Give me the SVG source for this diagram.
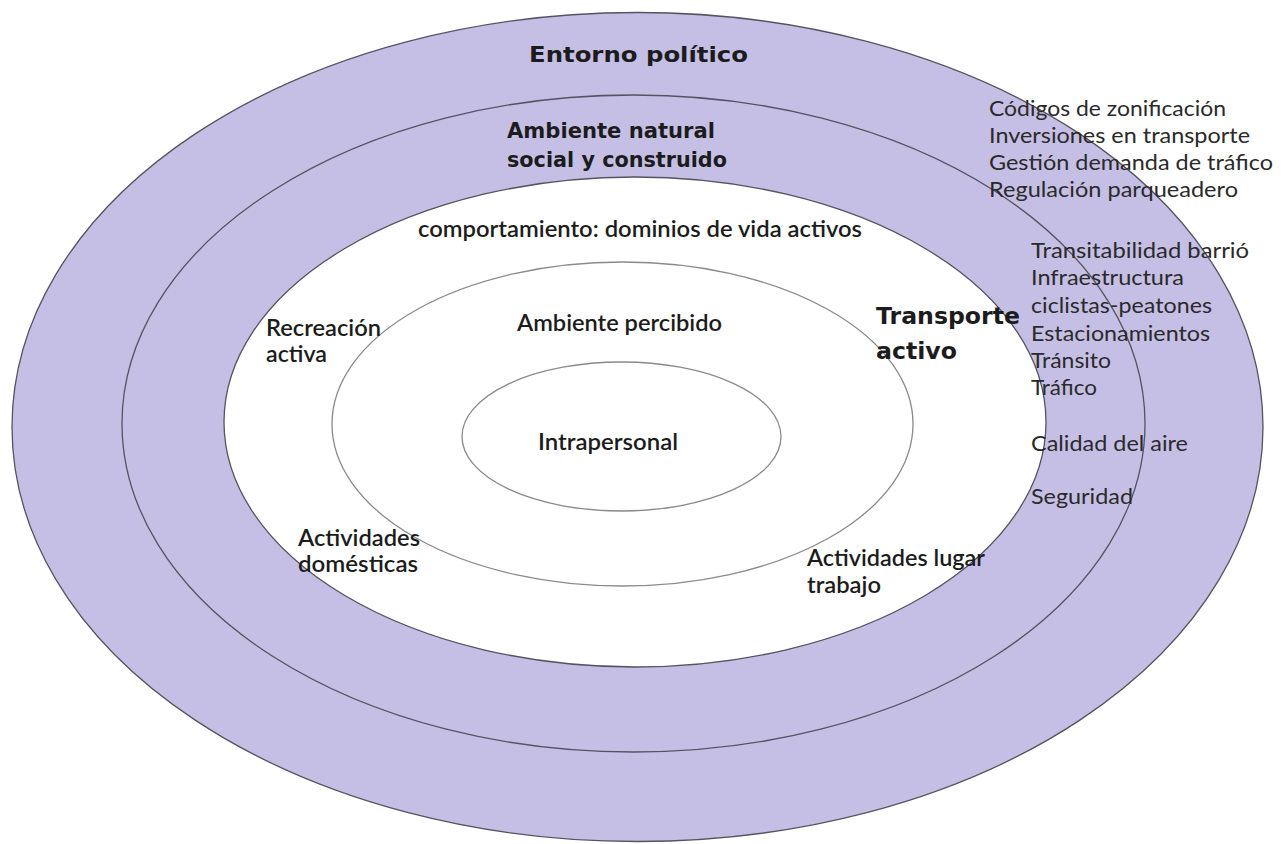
<svg xmlns="http://www.w3.org/2000/svg" width="1286" height="844" viewBox="0 0 1286 844">
  <style>
    .ring { fill: #c6bfe5; stroke: #55535f; stroke-width: 1.3; }
    .core { fill: #ffffff; stroke: #55535f; stroke-width: 1.3; }
    .inner { fill: #ffffff; stroke: #8a8a8a; stroke-width: 1.3; }
    text { font-family: Lato, "Open Sans", "Liberation Sans", sans-serif; fill: #1c1c1c; }
    .head { font-family: "DejaVu Sans", "Liberation Sans", sans-serif; font-weight: 700; font-size: 21px; }
    .lbl { font-weight: 600; font-size: 22px; }
    .list { font-weight: 400; font-size: 22px; fill: #2a2a2a; }
    .big { font-family: "DejaVu Sans", "Liberation Sans", sans-serif; font-weight: 700; font-size: 23px; }
  </style>

  <!-- nested levels of the socio-ecological model -->
  <g id="entorno-politico">
    <ellipse class="ring" cx="637.5" cy="427" rx="625.5" ry="414.5"/>
    <text class="head" x="529" y="62" textLength="219" lengthAdjust="spacingAndGlyphs">Entorno político</text>
  </g>

  <g id="ambiente-natural">
    <ellipse class="ring" cx="633.5" cy="423.5" rx="511.5" ry="328.5"/>
    <text class="head" x="507" y="138" textLength="208" lengthAdjust="spacingAndGlyphs">Ambiente natural</text>
    <text class="head" x="507" y="167" textLength="220" lengthAdjust="spacingAndGlyphs">social y construido</text>
  </g>

  <g id="comportamiento">
    <ellipse class="core" cx="635" cy="422" rx="411" ry="245"/>
    <text class="lbl" x="418" y="237" textLength="444" lengthAdjust="spacingAndGlyphs">comportamiento: dominios de vida activos</text>
  </g>

  <g id="ambiente-percibido">
    <ellipse class="inner" cx="622.5" cy="424" rx="290.5" ry="162"/>
    <text class="lbl" x="517" y="331" textLength="205" lengthAdjust="spacingAndGlyphs">Ambiente percibido</text>
  </g>

  <g id="intrapersonal">
    <ellipse class="inner" cx="621.5" cy="436.5" rx="159.5" ry="74.5"/>
    <text class="lbl" x="538" y="450" textLength="140" lengthAdjust="spacingAndGlyphs">Intrapersonal</text>
  </g>

  <!-- activity domains -->
  <g id="recreacion-activa">
    <text class="lbl" x="266" y="336" textLength="115" lengthAdjust="spacingAndGlyphs">Recreación</text>
    <text class="lbl" x="266" y="362" textLength="61" lengthAdjust="spacingAndGlyphs">activa</text>
  </g>

  <g id="actividades-domesticas">
    <text class="lbl" x="298" y="546" textLength="122" lengthAdjust="spacingAndGlyphs">Actividades</text>
    <text class="lbl" x="298" y="572" textLength="120" lengthAdjust="spacingAndGlyphs">domésticas</text>
  </g>

  <g id="actividades-trabajo">
    <text class="lbl" x="807" y="566" textLength="178" lengthAdjust="spacingAndGlyphs">Actividades lugar</text>
    <text class="lbl" x="807" y="593" textLength="74" lengthAdjust="spacingAndGlyphs">trabajo</text>
  </g>

  <g id="transporte-activo">
    <text class="big" x="876" y="324" textLength="144" lengthAdjust="spacingAndGlyphs">Transporte</text>
    <text class="big" x="876" y="359" textLength="81" lengthAdjust="spacingAndGlyphs">activo</text>
  </g>

  <!-- policy factors -->
  <g id="politicas">
    <text class="list" x="989" y="116" textLength="237" lengthAdjust="spacingAndGlyphs">Códigos de zonificación</text>
    <text class="list" x="989" y="143" textLength="261" lengthAdjust="spacingAndGlyphs">Inversiones en transporte</text>
    <text class="list" x="989" y="170" textLength="284" lengthAdjust="spacingAndGlyphs">Gestión demanda de tráfico</text>
    <text class="list" x="989" y="197" textLength="249" lengthAdjust="spacingAndGlyphs">Regulación parqueadero</text>
  </g>

  <!-- environment factors -->
  <g id="factores-ambiente">
    <text class="list" x="1031" y="258" textLength="218" lengthAdjust="spacingAndGlyphs">Transitabilidad barrió</text>
    <text class="list" x="1031" y="285" textLength="153" lengthAdjust="spacingAndGlyphs">Infraestructura</text>
    <text class="list" x="1031" y="313" textLength="181" lengthAdjust="spacingAndGlyphs">ciclistas-peatones</text>
    <text class="list" x="1031" y="341" textLength="179" lengthAdjust="spacingAndGlyphs">Estacionamientos</text>
    <text class="list" x="1031" y="368" textLength="80" lengthAdjust="spacingAndGlyphs">Tránsito</text>
    <text class="list" x="1031" y="395" textLength="66" lengthAdjust="spacingAndGlyphs">Tráfico</text>
    <text class="list" x="1031" y="451" textLength="157" lengthAdjust="spacingAndGlyphs">Calidad del aire</text>
    <text class="list" x="1031" y="504" textLength="102" lengthAdjust="spacingAndGlyphs">Seguridad</text>
  </g>
</svg>
